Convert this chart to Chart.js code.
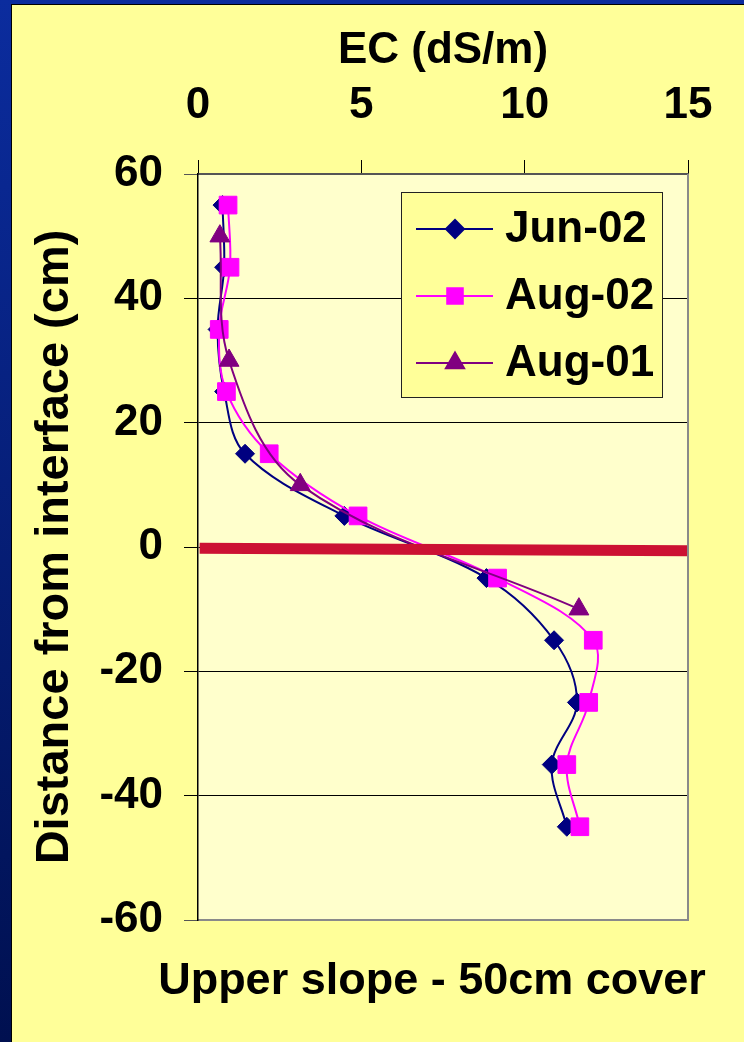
<!DOCTYPE html>
<html>
<head>
<meta charset="utf-8">
<title>EC profile - upper slope</title>
<script src="https://cdn.jsdelivr.net/npm/chart.js@4/dist/chart.umd.min.js"></script>
<style>
  html, body { margin: 0; padding: 0; }
  body {
    width: 744px; height: 1042px; position: relative; overflow: hidden;
    background: linear-gradient(to bottom, #0b2c9e, #001050);
  }
  #panel {
    position: absolute; left: 11px; top: 4px; right: 0; bottom: 0;
    background: #ffff99;
    border-left: 1px solid #000; border-top: 1px solid #000;
  }
  #wrap { position: absolute; left: 0; top: 0; width: 744px; height: 1042px; }
  #ec-chart { display: block; }
</style>
</head>
<body>
<div id="panel"></div>
<div id="wrap"><canvas id="ec-chart" width="744" height="1042"></canvas></div>
<script>
// depths (cm from interface) and EC readings (dS/m)
var depths = [55, 45, 35, 25, 15, 5, -5, -15, -25, -35, -45];
var jun02 = [0.75, 0.8, 0.6, 0.8, 1.44, 4.48, 8.83, 10.9, 11.6, 10.83, 11.29];
var aug02 = [0.92, 0.98, 0.65, 0.87, 2.18, 4.9, 9.17, 12.1, 11.96, 11.29, 11.69];
var aug01Depths = [50, 30, 10, -10];
var aug01 = [0.67, 0.95, 3.13, 11.66];
// the interface line across the plot
var interfaceX = [0.05, 15];
var interfaceY = [-0.2, -0.6];

var xTicks = [0, 5, 10, 15];
var yTicks = [-60, -40, -20, 0, 20, 40, 60];
var caption = "Upper slope - 50cm cover";

function pairs(xs, ys) {
  return xs.map(function (v, i) { return { x: v, y: ys[i] }; });
}

Chart.defaults.font.family = "'Liberation Sans', Arial, Helvetica, sans-serif";
Chart.defaults.font.weight = "bold";
Chart.defaults.font.size = 44;
Chart.defaults.color = "#000";

// light plot background + grey right edge
var plotArea = {
  id: "plotArea",
  beforeDraw: function (chart) {
    var a = chart.chartArea, c = chart.ctx;
    c.save();
    c.fillStyle = "#ffffcc";
    c.fillRect(a.left, a.top, a.right - a.left, a.bottom - a.top);
    c.restore();
  },
  afterDraw: function (chart) {
    var a = chart.chartArea, c = chart.ctx;
    c.save();
    c.strokeStyle = "#8a8a8a";
    c.lineWidth = 2;
    c.beginPath();
    c.moveTo(a.right, a.top);
    c.lineTo(a.right, a.bottom + 1);
    c.stroke();
    c.restore();
  }
};

// caption under the plot (wider than the axis, so drawn here)
var captionText = {
  id: "captionText",
  afterDraw: function (chart) {
    var a = chart.chartArea, c = chart.ctx;
    c.save();
    c.fillStyle = "#000";
    c.font = "bold 45px 'Liberation Sans', Arial, sans-serif";
    c.textAlign = "center";
    c.textBaseline = "middle";
    c.fillText(caption, (a.left + a.right) / 2 - 11, a.bottom + 62);
    c.restore();
  }
};

// boxed legend sitting inside the plot, top right
var boxLegend = {
  id: "boxLegend",
  afterDraw: function (chart) {
    var c = chart.ctx;
    var items = chart.data.datasets.filter(function (d) { return d.inLegend; });
    items.sort(function (a, b) { return a.legendIndex - b.legendIndex; });
    var bx = 401, by = 192, bw = 261, bh = 205;
    c.save();
    c.fillStyle = "#ffff99";
    c.fillRect(bx, by, bw, bh);
    c.strokeStyle = "#222";
    c.lineWidth = 1;
    c.strokeRect(bx + 0.5, by + 0.5, bw, bh);
    var rows = [229, 296, 363];
    items.forEach(function (d, i) {
      var y = rows[i];
      c.strokeStyle = d.borderColor;
      c.lineWidth = 2;
      c.beginPath();
      c.moveTo(416, y);
      c.lineTo(493, y);
      c.stroke();
      c.fillStyle = d.backgroundColor;
      Chart.helpers.drawPoint(c, {
        pointStyle: d.pointStyle,
        radius: d.legendRadius,
        rotation: 0,
        borderWidth: 1
      }, 455, y);
      c.fill();
      c.fillStyle = "#000";
      c.font = "bold 44px 'Liberation Sans', Arial, sans-serif";
      c.textAlign = "left";
      c.textBaseline = "middle";
      c.fillText(d.label, 505, y + 1);
    });
    c.restore();
  }
};

var ctx = document.getElementById("ec-chart");

var ecChart = new Chart(ctx, {
  type: "scatter",
  data: {
    datasets: [
      {
        label: "interface",
        data: pairs(interfaceX, interfaceY),
        showLine: true,
        borderColor: "#cc1133",
        borderWidth: 11,
        pointRadius: 0,
        order: 0
      },
      {
        label: "Aug-01",
        data: pairs(aug01, aug01Depths),
        showLine: true,
        tension: 0.35,
        borderColor: "#800080",
        backgroundColor: "#800080",
        borderWidth: 2,
        pointStyle: "triangle",
        pointRadius: 11.5,
        pointBorderWidth: 1,
        inLegend: true, legendIndex: 2, legendRadius: 10.5,
        order: 1
      },
      {
        label: "Aug-02",
        data: pairs(aug02, depths),
        showLine: true,
        tension: 0.35,
        borderColor: "#ff00ff",
        backgroundColor: "#ff00ff",
        borderWidth: 2,
        pointStyle: "rect",
        pointRadius: 12.5,
        pointBorderWidth: 1,
        inLegend: true, legendIndex: 1, legendRadius: 11,
        order: 2
      },
      {
        label: "Jun-02",
        data: pairs(jun02, depths),
        showLine: true,
        tension: 0.35,
        borderColor: "#000080",
        backgroundColor: "#000080",
        borderWidth: 2,
        pointStyle: "rectRot",
        pointRadius: 9.5,
        pointBorderWidth: 1,
        inLegend: true, legendIndex: 0, legendRadius: 9,
        order: 3
      }
    ]
  },
  options: {
    responsive: false,
    animation: false,
    layout: { padding: { left: 12, top: 0, right: 56, bottom: 0 } },
    plugins: {
      legend: { display: false },
      tooltip: { enabled: false }
    },
    scales: {
      x: {
        position: "top",
        min: 0, max: 15,
        afterBuildTicks: function (s) { s.ticks = xTicks.map(function (v) { return { value: v }; }); },
        afterFit: function (s) { s.height = 174; },
        ticks: { padding: 28, font: { size: 44 } },
        grid: { drawOnChartArea: false, drawTicks: true, tickLength: 14, color: "#000" },
        border: { color: "#555", width: 2 },
        title: { display: true, text: "EC (dS/m)", font: { size: 44 }, padding: { top: 24, bottom: 0 } }
      },
      xb: {
        type: "linear",
        position: "bottom",
        min: 0, max: 15,
        afterFit: function (s) { s.height = 122; },
        ticks: { display: false },
        grid: { display: false, drawTicks: false },
        border: { color: "#8a8a8a", width: 2 }
      },
      y: {
        min: -60, max: 60,
        afterBuildTicks: function (s) { s.ticks = yTicks.map(function (v) { return { value: v }; }); },
        afterFit: function (s) { s.width = 186; },
        ticks: { padding: 21, font: { size: 44 } },
        grid: {
          tickLength: 14,
          lineWidth: 1,
          color: function (c) {
            var v = c.tick ? c.tick.value : 0;
            return (v === 60 || v === -60) ? "#555" : "#000";
          }
        },
        border: { color: "#000", width: 1.5 },
        title: { display: true, text: "Distance from interface (cm)", font: { size: 47 }, padding: { top: 15, bottom: 0 } }
      }
    }
  },
  plugins: [plotArea, captionText, boxLegend]
});
</script>
</body>
</html>
